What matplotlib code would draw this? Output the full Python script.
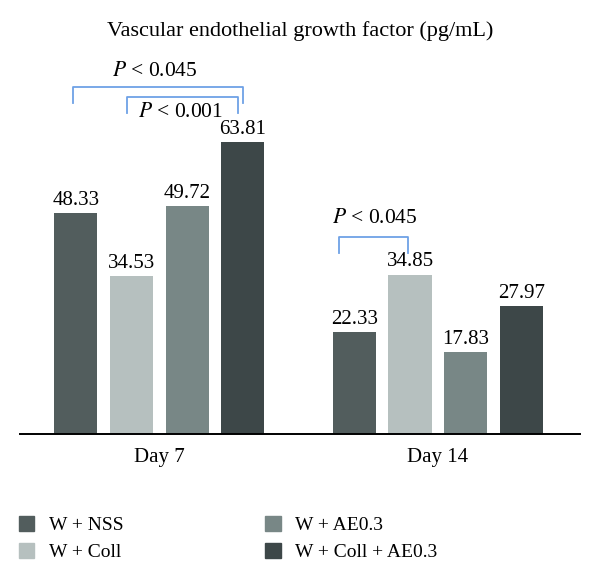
import matplotlib.pyplot as plt
import matplotlib.patches as mpatches
import numpy as np

plt.rcParams['font.family'] = ['Liberation Serif', 'DejaVu Serif']
plt.rcParams['mathtext.fontset'] = 'stix'

# data
days = ['Day 7', 'Day 14']
groups = ['W + NSS', 'W + Coll', 'W + AE0.3', 'W + Coll + AE0.3']
values = {
    'W + NSS': [48.33, 22.33],
    'W + Coll': [34.53, 34.85],
    'W + AE0.3': [49.72, 17.83],
    'W + Coll + AE0.3': [63.81, 27.97],
}
colors = ['#525d5d', '#b6c0bf', '#788786', '#3d4748']

# significance brackets: (day index, bar i, bar j, label)
brackets = [(0, 0, 3, r'$P$ < 0.045'), (0, 1, 3, r'$P$ < 0.001'), (1, 0, 1, r'$P$ < 0.045')]

fig = plt.figure(figsize=(6, 5.84), dpi=100)
ax = fig.add_axes([20 / 600, 150 / 584, 560 / 600, 394 / 584])

x = np.arange(len(days))
width = 0.155
step = 0.2
offsets = (np.arange(len(groups)) - 1.5) * step

for k, g in enumerate(groups):
    bars = ax.bar(x + offsets[k], values[g], width, color=colors[k], label=g)
    for b, v in zip(bars, values[g]):
        ax.text(b.get_x() + b.get_width() / 2, v + 0.7, f'{v:.2f}',
                ha='center', va='bottom', fontsize=15)

ax.set_xlim(-0.5, 1.51)
ax.set_ylim(0, 86.1)
ax.set_xticks(x)
ax.set_xticklabels(days, fontsize=15)
ax.tick_params(axis='x', length=0, pad=10)
ax.set_yticks([])
for s in ['left', 'right', 'top']:
    ax.spines[s].set_visible(False)
ax.spines['bottom'].set_linewidth(1.4)

# brackets drawn by hand
blue = '#6ea1e6'
def bracket(x1, x2, top, leg, label, tx, ty):
    ax.plot([x1, x1, x2, x2], [top - leg, top, top, top - leg], color=blue, lw=1.3, clip_on=False)
    ax.text(tx, ty, label, ha='center', va='center', fontsize=15.5)

b1 = brackets[0]
bracket(x[0] + offsets[0] - 0.008, x[0] + offsets[3], 75.8, 3.5, b1[3], -0.015, 79.3)
b2 = brackets[1]
bracket(x[0] + offsets[1] - 0.015, x[0] + offsets[3] - 0.017, 73.6, 3.5, b2[3], 0.075, 70.3)
b3 = brackets[2]
bracket(x[1] + offsets[0] - 0.055, x[1] + offsets[1] - 0.008, 43.0, 3.5, b3[3], 0.775, 47.0)

fig.text(0.5, 1 - 31 / 584, 'Vascular endothelial growth factor (pg/mL)',
         ha='center', va='center', fontsize=16)

handles = [mpatches.Patch(color=c) for c in colors]
fig.legend(handles, groups, ncol=2, loc='upper left', bbox_to_anchor=(0.018, 1 - 508 / 584),
           frameon=False, fontsize=14, handlelength=0.8, handleheight=0.8,
           handletextpad=0.75, columnspacing=7.3, labelspacing=0.45, borderaxespad=0)

fig.savefig('out.png', dpi=100)
